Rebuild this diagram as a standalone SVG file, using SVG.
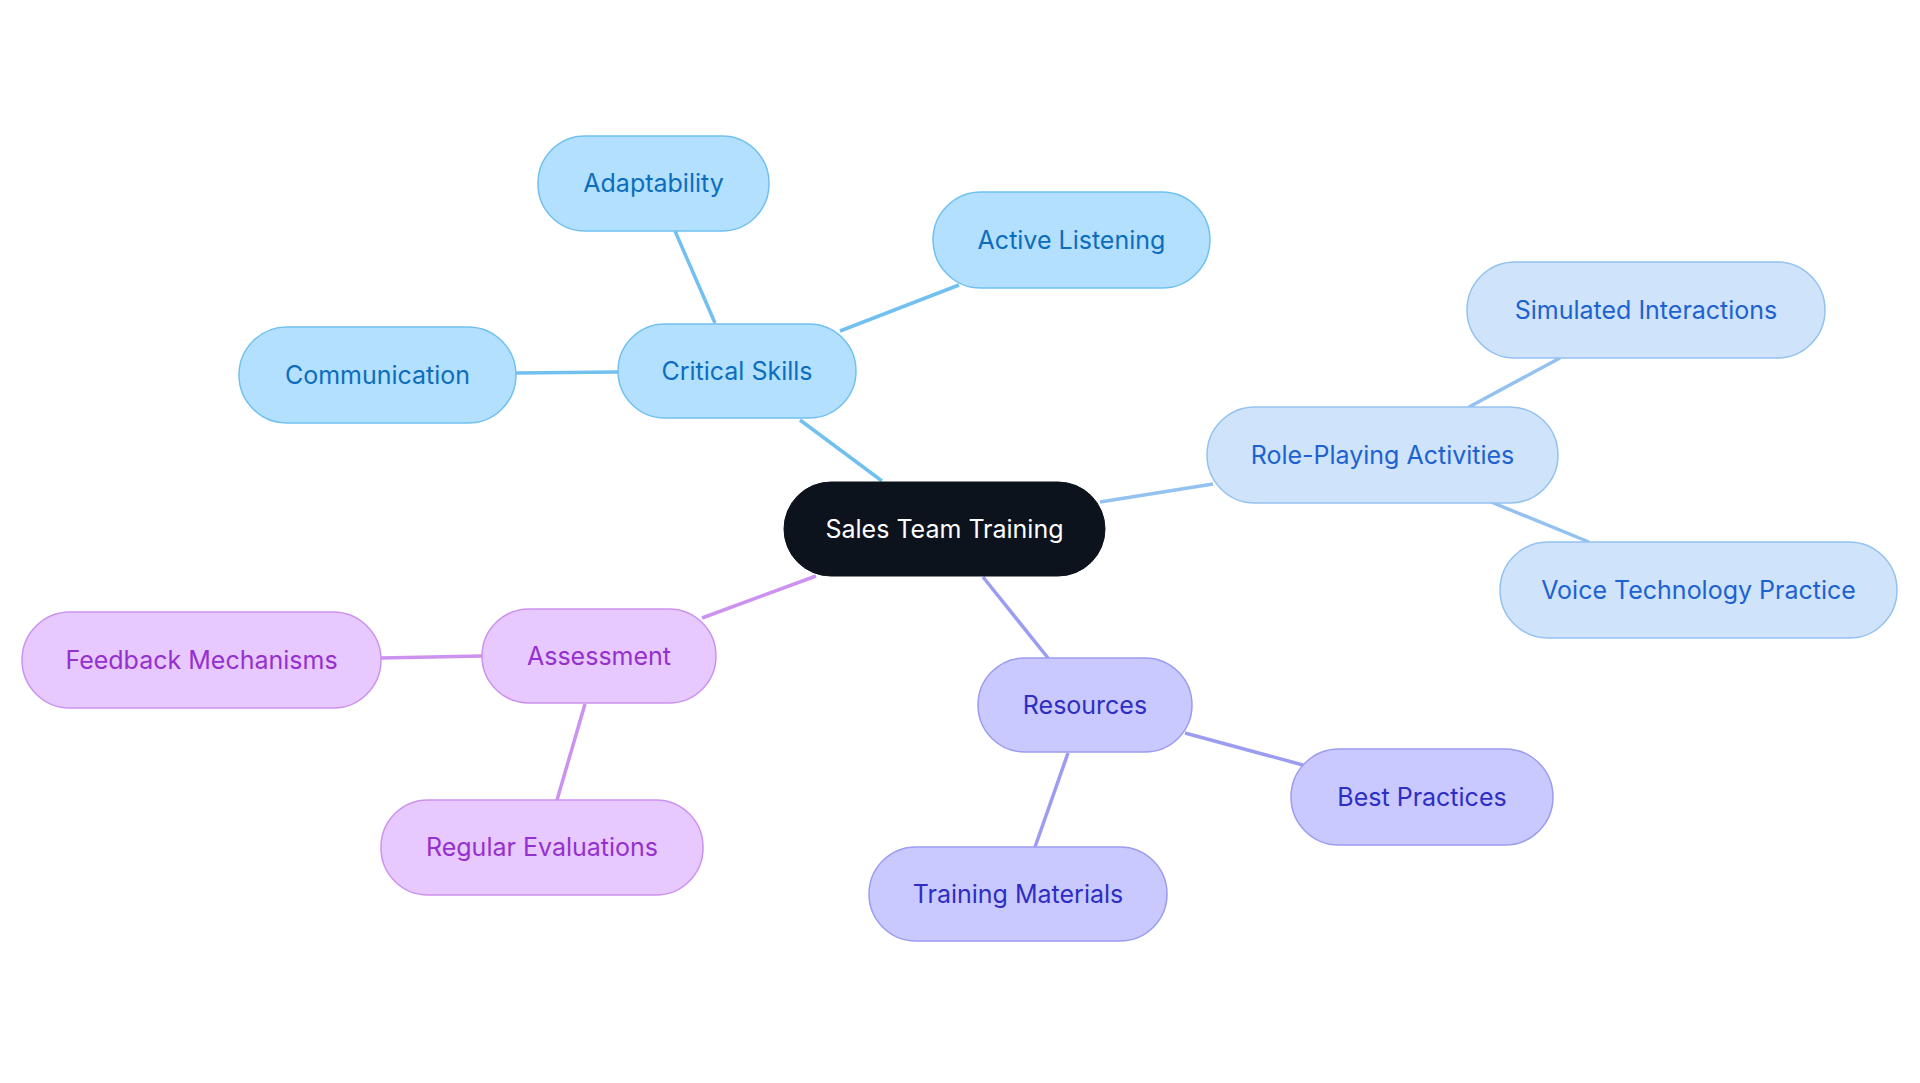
<svg xmlns="http://www.w3.org/2000/svg" width="1920" height="1083" viewBox="0 0 1920 1083">
<style>
text{font-family:Inter,"Liberation Sans",sans-serif;font-size:25px;text-anchor:middle;dominant-baseline:central}
.c rect{fill:#0c131c;stroke:#0c131c}.c text{fill:#fff}
.b rect{fill:#b3e0ff;stroke:#72c0f0;stroke-width:1.5}.b text{fill:#0d6dbd}
.l rect{fill:#cfe3fb;stroke:#94c2f0;stroke-width:1.5}.l text{fill:#1d62d0}
.p rect{fill:#c9c9ff;stroke:#9c9cf0;stroke-width:1.5}.p text{fill:#2e2ec4}
.v rect{fill:#e8c9ff;stroke:#cc92f0;stroke-width:1.5}.v text{fill:#9530d0}
#edges line{stroke-width:3.5;fill:none}
</style>
<rect width="1920" height="1083" fill="#fff"/>
<g id="edges">
<line x1="882" y1="481" x2="800" y2="420" stroke="#72c0f0"/>
<line x1="715" y1="323" x2="675" y2="231" stroke="#72c0f0"/>
<line x1="840" y1="331" x2="959" y2="285" stroke="#72c0f0"/>
<line x1="618" y1="372" x2="516" y2="373" stroke="#72c0f0"/>
<line x1="1100" y1="502" x2="1213" y2="484" stroke="#94c2f0"/>
<line x1="1469" y1="407" x2="1560" y2="358" stroke="#94c2f0"/>
<line x1="1491" y1="502" x2="1589" y2="542" stroke="#94c2f0"/>
<line x1="816" y1="576" x2="702" y2="618" stroke="#cc92f0"/>
<line x1="482" y1="656" x2="381" y2="658" stroke="#cc92f0"/>
<line x1="585" y1="704" x2="557" y2="800" stroke="#cc92f0"/>
<line x1="983" y1="577" x2="1048" y2="658" stroke="#9c9cf0"/>
<line x1="1185" y1="733" x2="1303" y2="765" stroke="#9c9cf0"/>
<line x1="1068" y1="753" x2="1035" y2="847" stroke="#9c9cf0"/>
</g>
<g id="n0" class="c"><rect x="784" y="482" width="321" height="94" rx="47"/><text x="944.5" y="529">Sales Team Training</text></g>
<g id="n1" class="b"><rect x="618" y="324" width="238" height="94" rx="47"/><text x="737" y="371">Critical Skills</text></g>
<g id="n2" class="b"><rect x="538" y="136" width="231" height="95" rx="47"/><text x="653.5" y="183">Adaptability</text></g>
<g id="n3" class="b"><rect x="933" y="192" width="277" height="96" rx="48"/><text x="1071.5" y="240">Active Listening</text></g>
<g id="n4" class="b"><rect x="239" y="327" width="277" height="96" rx="48"/><text x="377.5" y="375">Communication</text></g>
<g id="n5" class="l"><rect x="1207" y="407" width="351" height="96" rx="48"/><text x="1382.5" y="455">Role-Playing Activities</text></g>
<g id="n6" class="l"><rect x="1467" y="262" width="358" height="96" rx="48"/><text x="1646" y="310">Simulated Interactions</text></g>
<g id="n7" class="l"><rect x="1500" y="542" width="397" height="96" rx="48"/><text x="1698.5" y="590">Voice Technology Practice</text></g>
<g id="n8" class="v"><rect x="482" y="609" width="234" height="94" rx="47"/><text x="599" y="656">Assessment</text></g>
<g id="n9" class="v"><rect x="22" y="612" width="359" height="96" rx="48"/><text x="201.5" y="660">Feedback Mechanisms</text></g>
<g id="n10" class="v"><rect x="381" y="800" width="322" height="95" rx="47"/><text x="542" y="847">Regular Evaluations</text></g>
<g id="n11" class="p"><rect x="978" y="658" width="214" height="94" rx="47"/><text x="1085" y="705">Resources</text></g>
<g id="n12" class="p"><rect x="1291" y="749" width="262" height="96" rx="48"/><text x="1422" y="797">Best Practices</text></g>
<g id="n13" class="p"><rect x="869" y="847" width="298" height="94" rx="47"/><text x="1018" y="894">Training Materials</text></g>
</svg>
